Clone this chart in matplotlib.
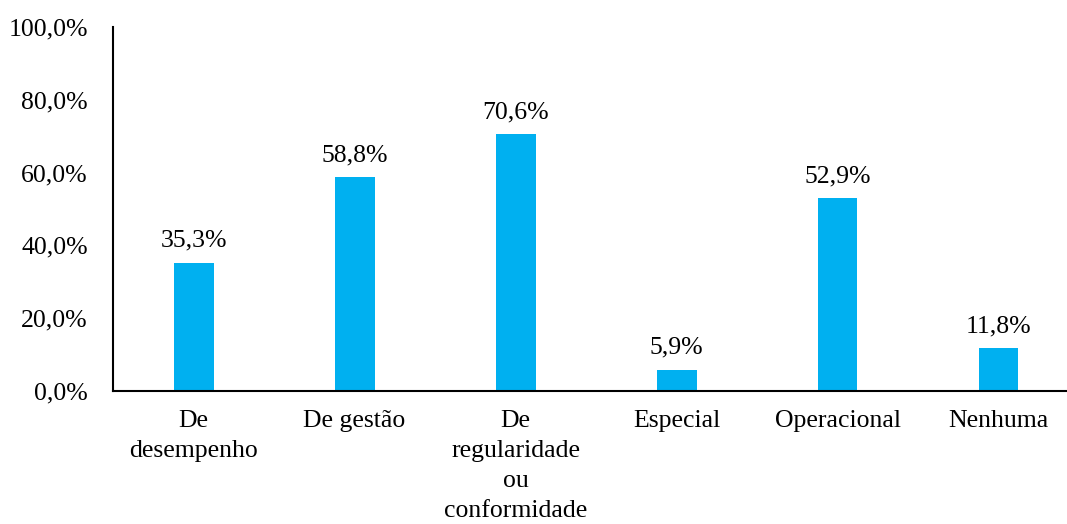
import matplotlib
matplotlib.use("Agg")
import matplotlib.pyplot as plt

categories = ["De\ndesempenho", "De gestão", "De\nregularidade\nou\nconformidade",
              "Especial", "Operacional", "Nenhuma"]
values = [35.3, 58.8, 70.6, 5.9, 52.9, 11.8]
yticks = [0, 20, 40, 60, 80, 100]

plt.rcParams["font.family"] = ["Liberation Serif", "DejaVu Serif"]

fig = plt.figure(figsize=(10.67, 5.24), dpi=100)
W, H = 1067, 524
left, bottom, top = 113, 391, 27
ax = fig.add_axes([left / W, (H - bottom) / H, (W - left) / W, (bottom - top) / H])

fs = 18.5
step = 161
x = list(range(len(categories)))
ax.bar(x, values, width=40 / step, color="#00B0F0")
for xi, v in zip(x, values):
    ax.text(xi, v + 3.0, f"{v:.1f}%".replace(".", ","), ha="center", va="bottom",
            fontsize=fs)

ax.set_xlim(-0.5, -0.5 + (W - left) / step)
ax.set_ylim(0, 100)
ax.set_yticks(yticks)
ax.set_yticklabels([f"{t:.1f}%".replace(".", ",") for t in yticks], fontsize=fs)
ax.set_xticks(x)
ax.set_xticklabels(categories, fontsize=fs, linespacing=1.46, va="top")
ax.tick_params(axis="both", length=0)
ax.tick_params(axis="y", pad=18)
ax.tick_params(axis="x", pad=14)
for s in ["top", "right"]:
    ax.spines[s].set_visible(False)
for s in ["left", "bottom"]:
    ax.spines[s].set_linewidth(1.5)
    ax.spines[s].set_color("black")

fig.savefig("out.png", dpi=100)
